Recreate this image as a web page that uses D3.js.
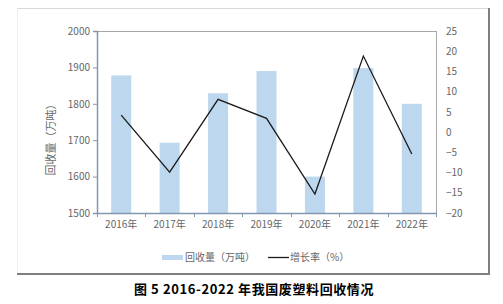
<!DOCTYPE html>
<html><head><meta charset="utf-8">
<script src="https://cdn.jsdelivr.net/npm/d3@7"></script>
<style>body{margin:0;background:#fff}svg{display:block}</style>
</head><body>
<script>
const categories = ["2016年","2017年","2018年","2019年","2020年","2021年","2022年"];
const recovery = [1878, 1693, 1829, 1890, 1600, 1898, 1800];
const growth = [4.2, -9.9, 8.1, 3.4, -15.3, 18.8, -5.4];
const leftTicks = [1500,1600,1700,1800,1900,2000];
const rightTicks = [-20,-15,-10,-5,0,5,10,15,20,25];

const W=503,H=304;
const svg=d3.select("body").append("svg").attr("width",W).attr("height",H);
const font="'Noto Sans CJK SC','DejaVu Sans',sans-serif";
// frame
svg.append("line").attr("x1",17).attr("x2",489).attr("y1",8.5).attr("y2",8.5).attr("stroke","#d9d9d9");
svg.append("line").attr("x1",17.5).attr("x2",17.5).attr("y1",8).attr("y2",274).attr("stroke","#f0f0f0");
svg.append("line").attr("x1",489).attr("x2",489).attr("y1",8).attr("y2",275).attr("stroke","#7f7f7f").attr("stroke-width",2);
svg.append("line").attr("x1",17).attr("x2",490).attr("y1",274).attr("y2",274).attr("stroke","#7f7f7f").attr("stroke-width",2);

const L=97,R=436,T=31,B=213;
const x=d3.scaleBand().domain(categories).range([L,R]);
const yL=d3.scaleLinear().domain([1500,2000]).range([B,T]);
const yR=d3.scaleLinear().domain([-20,25]).range([B,T]);

// plot box top/right
svg.append("line").attr("x1",L).attr("x2",R).attr("y1",T+0.5).attr("y2",T+0.5).attr("stroke","#a6a6a6");
svg.append("line").attr("x1",R+0.5).attr("x2",R+0.5).attr("y1",T).attr("y2",B).attr("stroke","#a6a6a6");

// bars
const bw=20;
svg.selectAll("rect.bar").data(recovery).enter().append("rect")
 .attr("x",(d,i)=>x(categories[i])+x.bandwidth()/2-bw/2)
 .attr("y",d=>yL(d)).attr("width",bw).attr("height",d=>B-yL(d))
 .attr("fill","#bdd7ee");

// left axis
const gL=svg.append("g").attr("transform",`translate(${L},0)`)
 .call(d3.axisLeft(yL).tickValues(leftTicks).tickSize(4).tickFormat(d3.format("d")));
gL.select(".domain").attr("stroke","#8497b0").attr("stroke-width",1.5);
gL.selectAll(".tick line").attr("stroke","#8497b0");
gL.selectAll("text").attr("fill","#666").attr("font-size",10).attr("font-family",font);

// bottom axis
const gB=svg.append("g").attr("transform",`translate(0,${B})`)
 .call(d3.axisBottom(x).tickSize(0).tickPadding(8));
gB.select(".domain").attr("stroke","#8497b0").attr("stroke-width",1.5);
gB.selectAll("text").attr("fill","#666").attr("font-size",10).attr("font-family",font);
// category separators
categories.forEach((c,i)=>{
  const xx=Math.round(x(c)+x.bandwidth())+0.5;
  svg.append("line").attr("x1",xx).attr("x2",xx).attr("y1",B).attr("y2",B+4).attr("stroke","#8497b0");
});
svg.append("line").attr("x1",L+0.5).attr("x2",L+0.5).attr("y1",B).attr("y2",B+4).attr("stroke","#8497b0");

// right axis
const gR=svg.append("g").attr("transform",`translate(${R},0)`)
 .call(d3.axisRight(yR).tickValues(rightTicks).tickSize(0).tickPadding(10));
gR.select(".domain").remove();
gR.selectAll("text").attr("fill","#666").attr("font-size",10).attr("font-family",font);

// line
const line=d3.line().x((d,i)=>x(categories[i])+x.bandwidth()/2).y(d=>yR(d));
svg.append("path").datum(growth).attr("d",line).attr("fill","none").attr("stroke","#1a1a1a").attr("stroke-width",1.3);

// y label
svg.append("text").attr("transform","translate(55,137) rotate(-90)").attr("text-anchor","middle")
 .attr("font-size",11).attr("fill","#666").attr("font-family",font).text("回收量（万吨）");

// legend
svg.append("rect").attr("x",162).attr("y",255).attr("width",21).attr("height",5).attr("fill","#bdd7ee");
svg.append("text").attr("x",185).attr("y",261).attr("font-size",10).attr("fill","#666").attr("font-family",font).text("回收量（万吨）");
svg.append("line").attr("x1",268).attr("x2",289).attr("y1",257.5).attr("y2",257.5).attr("stroke","#1a1a1a").attr("stroke-width",1.3);
svg.append("text").attr("x",290).attr("y",261).attr("font-size",10).attr("fill","#666").attr("font-family",font).text("增长率（%）");

// caption
svg.append("text").attr("x",254).attr("y",294).attr("text-anchor","middle").attr("font-size",13).attr("font-weight","bold")
 .attr("letter-spacing",0.6)
 .attr("fill","#000").attr("font-family","'Noto Sans CJK SC',sans-serif").text("图 5 2016-2022 年我国废塑料回收情况");
</script>
</body></html>
